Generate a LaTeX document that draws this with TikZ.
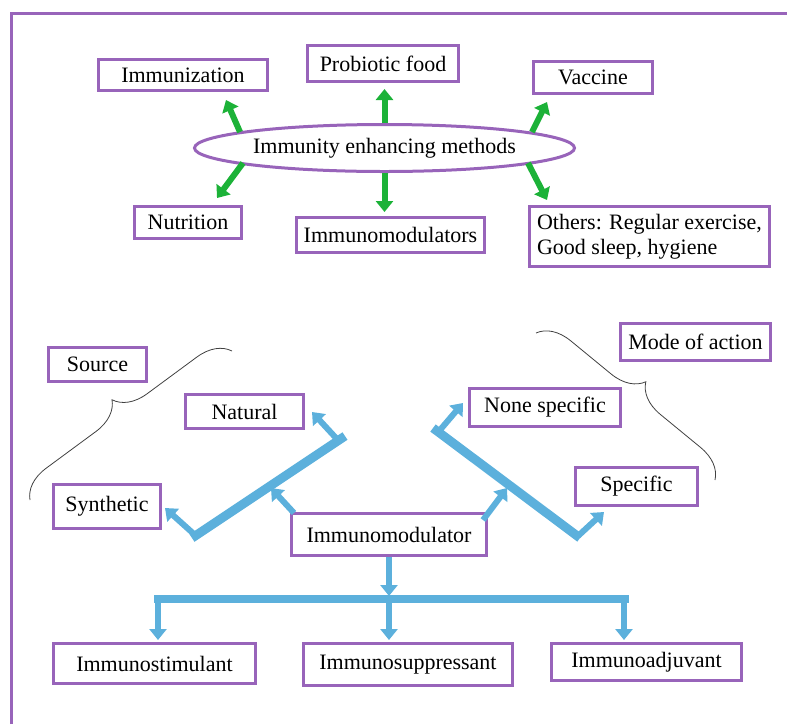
\documentclass[tikz,border=0pt]{standalone}
\usepackage{fontspec}
\setmainfont{Liberation Serif}
\usetikzlibrary{arrows.meta,decorations.pathreplacing,shapes.geometric}
\definecolor{bpurple}{RGB}{152,100,186}
\definecolor{agreen}{RGB}{28,178,56}
\definecolor{ablue}{RGB}{92,176,220}
\begin{document}
\begin{tikzpicture}[x=1pt,y=-1pt,
  pbox/.style={draw=bpurple,line width=3pt,inner sep=0pt,font=\fontsize{22}{25}\selectfont},
  garrow/.style={draw=agreen,line width=6pt,-{Triangle[length=11pt,width=17pt]}},
  barrow/.style={draw=ablue,line width=6pt,-{Triangle[length=11pt,width=17pt]}},
  bline/.style={draw=ablue,line width=9pt},
  bracel/.style={draw=black!75,line width=0.8pt,decorate,decoration={brace,amplitude=32pt}}]
\useasboundingbox (0,0) rectangle (787,724);
\draw[bpurple,line width=3pt] (11,724) -- (11,13) -- (787,13);

% top part
\node[pbox,minimum width=169pt,minimum height=31pt] (immz) at (183,75) {Immunization};
\node[pbox,minimum width=151pt,minimum height=36pt] (prob) at (383,63.5) {Probiotic food};
\node[pbox,minimum width=119pt,minimum height=32pt] (vacc) at (593,77.5) {Vaccine};
\node[pbox,minimum width=107pt,minimum height=32pt] (nutr) at (188,222.5) {Nutrition};
\node[pbox,minimum width=188pt,minimum height=35pt] (imms) at (390.5,235) {Immunomodulators};
\node[pbox,minimum width=240pt,minimum height=60pt,align=left] (oth) at (649.5,236.5) {Others: Regular exercise,\\Good sleep, hygiene};
\node[ellipse,draw=bpurple,line width=3pt,inner sep=0pt,minimum width=380pt,minimum height=47pt,font=\fontsize{22}{25}\selectfont] (ell) at (384.5,148) {Immunity enhancing methods};

\coordinate (g1a) at (240,132); \coordinate (g1b) at (226,100);
\coordinate (g3a) at (532,132); \coordinate (g3b) at (547,102);
\coordinate (g4a) at (243,163); \coordinate (g4b) at (217,198);
\coordinate (g6a) at (528,163); \coordinate (g6b) at (547,200);
\draw[garrow] (g1a) -- (g1b);
\draw[garrow] (ell.north) -- (384.5,89);
\draw[garrow] (g3a) -- (g3b);
\draw[garrow] (g4a) -- (g4b);
\draw[garrow] (ell.south) -- (384.5,212);
\draw[garrow] (g6a) -- (g6b);

% middle part
\node[pbox,minimum width=98pt,minimum height=34pt] (src) at (97.5,364.5) {Source};
\node[pbox,minimum width=118pt,minimum height=34pt] (nat) at (244.5,411.5) {Natural};
\node[pbox,minimum width=107pt,minimum height=44pt] (syn) at (107,506.5) {Synthetic};
\node[pbox,minimum width=150pt,minimum height=37pt] (moa) at (695.5,342) {Mode of action};
\node[pbox,minimum width=151pt,minimum height=38pt] (nsp) at (545,407.5) {None specific};
\node[pbox,minimum width=122pt,minimum height=38pt] (spe) at (636.5,486.5) {Specific};
\node[pbox,minimum width=195pt,minimum height=42pt] (immod) at (389,534.5) {Immunomodulator};

\coordinate (la) at (345,436); \coordinate (lb) at (192,538);
\coordinate (ra) at (433,428); \coordinate (rb) at (580,538);
\draw[bline] (la) -- (lb);
\draw[bline] (ra) -- (rb);
\draw[barrow] (336,438) -- (312,412);
\draw[barrow] (195,535) -- (165,508);
\draw[barrow] (294,513) -- (271,488);
\draw[barrow] (440,430) -- (463,403);
\draw[barrow] (578,536) -- (604,512);
\draw[barrow] (483,520) -- (507,488);

\coordinate (b1a) at (30,500); \coordinate (b1b) at (232,351);
\coordinate (b2a) at (536,333); \coordinate (b2b) at (715,480);
\draw[bracel] (b1a) -- (b1b);
\draw[bracel] (b2a) -- (b2b);

% bottom part
\node[pbox,minimum width=202pt,minimum height=40pt] (stim) at (154.5,663.5) {Immunostimulant};
\node[pbox,minimum width=209pt,minimum height=42pt] (supp) at (408,664.5) {Immunosuppressant};
\node[pbox,minimum width=190pt,minimum height=37pt] (adj) at (646.5,662) {Immunoadjuvant};
\coordinate (bl) at (154,599); \coordinate (br) at (629,599);
\draw[barrow] (immod.south) -- (389,596);
\draw[draw=ablue,line width=8pt] (bl) -- (br);
\draw[barrow] (158,599) -- (158,640);
\draw[barrow] (389,599) -- (389,640);
\draw[barrow] (624,599) -- (624,640);
\end{tikzpicture}
\end{document}
